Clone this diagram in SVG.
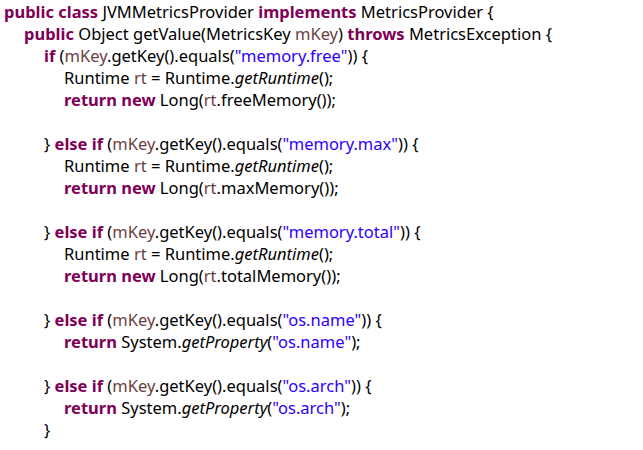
<svg xmlns="http://www.w3.org/2000/svg" width="643" height="450" viewBox="0 0 643 450">
<style>
text{font-family:"Noto Sans","Open Sans",sans-serif;font-size:16.5px;fill:#000;white-space:pre}
.k{fill:#7f0055;font-weight:bold}
.v{fill:#6a3e3e}
.s{fill:#2a00ff}
.i{font-style:italic}
</style>
<rect width="643" height="450" fill="#fff"/>
<text x="4" y="18"><tspan class="k">public class</tspan> JVMMetricsProvider <tspan class="k">implements</tspan> MetricsProvider {</text>
<text x="24" y="40"><tspan class="k">public</tspan> Object getValue(MetricsKey <tspan class="v">mKey</tspan>) <tspan class="k">throws</tspan> MetricsException {</text>
<text x="44" y="62"><tspan class="k">if</tspan> (<tspan class="v">mKey</tspan>.getKey().equals(<tspan class="s">"memory.free"</tspan>)) {</text>
<text x="64" y="84">Runtime <tspan class="v">rt</tspan> = Runtime.<tspan class="i">getRuntime</tspan>();</text>
<text x="64" y="106"><tspan class="k">return new</tspan> Long(<tspan class="v">rt</tspan>.freeMemory());</text>
<text x="44" y="150">} <tspan class="k">else if</tspan> (<tspan class="v">mKey</tspan>.getKey().equals(<tspan class="s">"memory.max"</tspan>)) {</text>
<text x="64" y="172">Runtime <tspan class="v">rt</tspan> = Runtime.<tspan class="i">getRuntime</tspan>();</text>
<text x="64" y="194"><tspan class="k">return new</tspan> Long(<tspan class="v">rt</tspan>.maxMemory());</text>
<text x="44" y="238">} <tspan class="k">else if</tspan> (<tspan class="v">mKey</tspan>.getKey().equals(<tspan class="s">"memory.total"</tspan>)) {</text>
<text x="64" y="260">Runtime <tspan class="v">rt</tspan> = Runtime.<tspan class="i">getRuntime</tspan>();</text>
<text x="64" y="282"><tspan class="k">return new</tspan> Long(<tspan class="v">rt</tspan>.totalMemory());</text>
<text x="44" y="326">} <tspan class="k">else if</tspan> (<tspan class="v">mKey</tspan>.getKey().equals(<tspan class="s">"os.name"</tspan>)) {</text>
<text x="64" y="348"><tspan class="k">return</tspan> System.<tspan class="i">getProperty</tspan>(<tspan class="s">"os.name"</tspan>);</text>
<text x="44" y="392">} <tspan class="k">else if</tspan> (<tspan class="v">mKey</tspan>.getKey().equals(<tspan class="s">"os.arch"</tspan>)) {</text>
<text x="64" y="414"><tspan class="k">return</tspan> System.<tspan class="i">getProperty</tspan>(<tspan class="s">"os.arch"</tspan>);</text>
<text x="44" y="436">}</text>
</svg>
